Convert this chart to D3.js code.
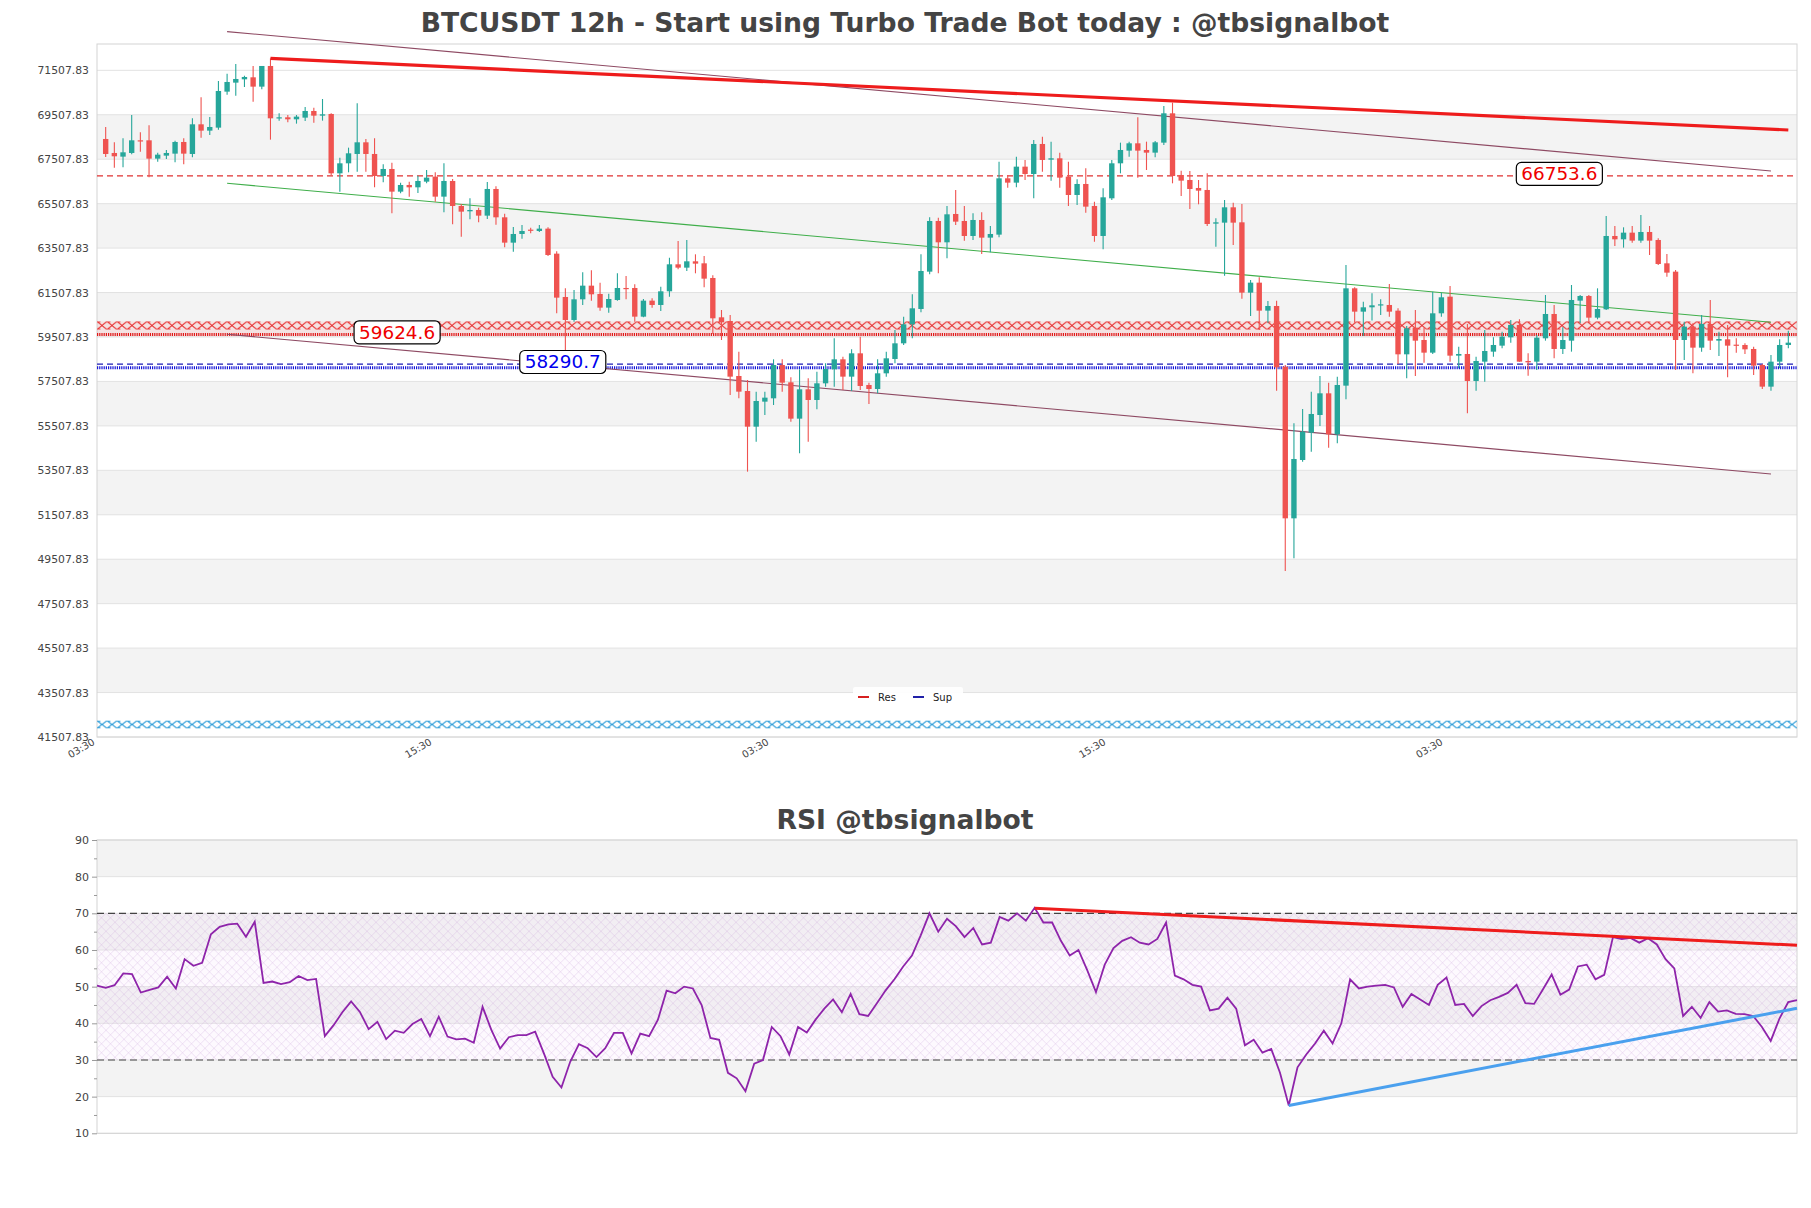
<!DOCTYPE html>
<html><head><meta charset="utf-8">
<script src="https://cdn.jsdelivr.net/npm/d3@7"></script>
<style>body{margin:0;background:#fff}svg{display:block}text{font-family:"DejaVu Sans",sans-serif}</style>
</head><body><svg id="c" width="1811" height="1208"></svg>
<script>
// ---------------- DATA ----------------
const yTicks = [41507.83,43507.83,45507.83,47507.83,49507.83,51507.83,53507.83,55507.83,57507.83,59507.83,61507.83,63507.83,65507.83,67507.83,69507.83,71507.83];
const xTickIdx = [-1, 37.85, 76.71, 115.56, 154.42];
const xTickLabels = ["03:30","15:30","03:30","15:30","03:30"];
const rsiTicks = [10,20,30,40,50,60,70,80,90];
const rsiMinor = [15,25,35,45,55,65,75,85];

const opens = [68418,67788,67623,67788,68358,68358,67533,67668,67758,68283,67743,69078,68793,68928,70548,70953,71103,71193,70773,71703,
69348,69393,69303,69378,69678,69468,69543,66873,67323,67743,68268,67743,66753,67068,66048,66348,66243,66498,66723,65823,
66528,65403,65163,65223,64968,66168,64893,63753,64143,64338,64278,64383,63258,61308,60273,61203,61818,61443,60828,61173,
61713,61713,60423,61143,60948,61563,62778,62628,62913,62823,62163,60393,60228,57753,57078,55473,56598,56748,58248,57468,
55833,57153,56673,57423,58053,58503,57723,58773,57348,57168,57873,58518,59223,60078,60768,62448,64728,63768,65043,64728,
64053,64773,63978,64113,66648,66453,67173,66843,68193,67488,67548,66723,65898,66393,65403,64053,65748,67323,67893,68223,
67923,67803,68253,69573,66798,66573,66213,66123,64608,64653,65343,64668,61503,61953,60693,60903,58173,51348,53973,55203,
55998,56973,55128,57318,61698,60648,60843,60933,60948,60693,58728,59928,59373,58803,60573,61323,58668,58743,57528,58398,
58848,59118,59493,60048,58428,58398,59448,60543,58968,59343,61143,61353,60378,60753,64053,63903,64203,63843,64233,63873,
62823,62448,59373,59973,59028,60093,59343,59403,59163,59148,58968,58248,57273,58398,59148];
const highs = [68958,68268,68448,69498,68718,69033,67803,67923,68343,68448,69348,70293,69408,71028,71358,71793,71268,71703,71703,72048,
69573,69498,69498,69858,69828,70218,69573,67578,68028,70023,68418,68448,67278,67353,66453,66498,66768,67023,66918,67323,
66618,65493,65748,65328,66483,66288,65058,64458,64548,64428,64548,64443,63363,61698,61623,62418,62508,61953,61458,62373,
62253,61878,61218,61248,61773,63078,63828,63873,63228,63153,62283,60723,60498,58848,57573,57048,57048,58503,58503,57693,
58053,57648,57948,58323,59448,58623,58953,59523,57453,58503,58848,59823,60423,61428,63228,64893,64878,65403,66123,65403,
65073,65118,64503,67398,66798,67623,67473,68373,68523,68298,67803,67398,66603,67098,65598,66198,67473,68253,68298,69393,
68298,68328,69903,70053,66993,66978,66573,66873,64848,65673,65553,65493,62073,62193,61128,61143,58248,55623,56268,57048,
57753,57453,57723,62748,61743,61098,61473,61203,61893,60798,59998,60723,59928,61548,61503,61803,59073,60093,58623,59823,
59493,59748,60273,60303,58773,59598,61398,60948,59943,61848,61398,61398,61698,64953,64503,64443,64503,64998,64503,63948,
63243,62523,60198,60123,60498,61173,59748,60048,59448,59223,59073,58293,58698,59403,59793];
const lows = [67608,67128,67143,67728,67848,66693,67398,67518,67368,67278,67593,68478,68598,68838,70413,70368,70758,70098,70653,68388,
69243,69168,69108,69228,69153,69243,66798,66048,66918,66948,66948,66243,66468,65073,65973,65823,65988,66423,65598,65118,
64578,64023,64803,64668,64818,64563,63543,63348,63933,64173,64233,63153,60573,58848,60198,60948,61143,60693,60603,61143,
61203,60198,60393,60828,60678,61323,62553,62478,62373,61743,59643,59373,56898,56748,53448,54798,55998,56448,57048,55698,
54273,54798,56253,57273,57273,57123,57078,57123,56493,56973,57723,58323,59148,59448,60618,62328,62373,63048,64548,63843,
63873,63243,63318,63993,66228,66243,66573,65748,66948,66543,66228,65403,65448,65103,63798,63453,65673,66873,67623,66678,
67023,67593,68148,66423,65853,65268,65478,64503,63573,62268,63648,61233,60453,59823,60153,57093,48978,49548,53898,54348,
55503,54528,54723,56703,60153,59553,60250,60498,60423,58293,57648,57753,58353,58743,60423,58398,58098,56073,57093,57498,
58623,58998,59253,58398,57768,58023,59343,58548,58743,58848,60123,60198,60303,60723,63603,63528,63753,63753,63198,62748,
62223,58023,58473,57873,58848,58923,58653,57693,58803,58743,57798,57168,57093,58098,58998];
const closes = [67743,67638,67818,68358,68328,67533,67713,67788,68283,67758,69078,68793,68958,70578,70983,71118,71208,70773,71703,69348,
69393,69303,69423,69678,69468,69528,66873,67323,67773,68268,67743,66753,67068,66048,66348,66243,66528,66678,65823,66528,
65403,65148,65223,64968,66168,64893,63753,64143,64278,64293,64383,63198,61278,60273,61203,61818,61428,60828,61218,61713,
61668,60423,61143,60948,61563,62778,62628,62913,62808,62133,60348,60168,57723,57048,55473,56628,56778,58248,57453,55833,
57153,56673,57423,58068,58503,57723,58773,57303,57168,57873,58548,59223,60078,60798,62478,64728,63768,65028,64698,64053,
64773,63978,64143,66648,66453,67173,66843,68193,67473,67548,66678,65898,66393,65373,64053,65793,67323,67923,68223,67893,
67803,68268,69573,66753,66543,66168,66093,64593,64668,65343,64653,61503,61953,60693,60903,58143,51348,54018,55248,56043,
56973,55128,57348,61698,60648,60843,60933,60978,60648,58728,59898,59343,58803,60573,61293,58668,58743,57528,58428,58878,
59148,59523,60048,58398,58368,59478,60543,58968,59373,61173,61353,60378,60768,64053,63903,64203,63843,64233,63843,62793,
62403,59373,59973,59028,60093,59343,59418,59118,59118,58953,58218,57273,58398,59148,59253];
const rsi = [50.3,49.7,50.4,53.6,53.4,48.4,49.1,49.8,52.7,49.5,57.5,55.7,56.5,64.3,66.3,67.0,67.2,63.6,67.7,51.0,
51.4,50.7,51.2,52.9,51.8,52.1,36.5,39.5,43.0,46.0,43.1,38.4,40.4,35.7,38.0,37.4,39.8,41.2,36.5,41.8,
36.4,35.6,35.8,34.7,44.5,38.2,33.1,36.2,36.8,36.8,37.7,31.8,25.4,22.5,29.5,34.3,33.2,30.8,33.2,37.4,
37.4,31.8,37.2,36.5,40.9,48.9,48.2,50.0,49.5,45.0,36.0,35.5,26.5,25.0,21.5,29.0,30.0,39.0,36.5,31.5,
39.0,37.5,41.0,44.0,46.5,43.0,48.0,42.5,42.0,45.5,49.0,52.0,55.5,58.5,64.0,70.0,65.0,68.5,66.5,63.5,
66.0,61.5,62.0,69.0,68.0,70.0,68.0,71.5,67.5,67.5,62.5,58.5,60.0,54.5,48.5,56.0,60.5,62.5,63.5,62.0,
61.5,63.0,67.5,53.0,52.0,50.5,50.0,43.5,44.0,47.0,44.0,34.0,35.5,32.0,33.0,26.5,17.6,28.0,31.5,34.5,
38.0,34.5,40.0,52.0,49.5,50.0,50.3,50.5,49.8,44.5,48.0,46.5,45.0,50.5,52.5,45.0,45.3,42.0,44.7,46.3,
47.2,48.3,50.5,45.5,45.3,49.2,53.3,47.8,49.2,55.5,56.0,52.0,53.2,63.5,63.0,63.3,62.0,63.2,61.5,57.5,
55.0,42.0,44.5,41.5,45.8,43.2,43.5,42.6,42.5,42.0,39.0,35.2,41.3,45.8,46.3];

const resLevels = [66753.6, 59624.6];   // dashed, dotted
const supLevels = [58290.7, 58126];     // dashed, dotted
const resBand = [59845, 60205];
const resGlow = [59540, 60205];
const supBand = [41899, 42241];
const levelLabels = [{v:66753.6, idx:167.6, kind:"res"},{v:59624.6, idx:33.6, kind:"res"},{v:58290.7, idx:52.7, kind:"sup"}];
const resTrend = [[19,72048],[194,68823]];
const chanUpper = [[14,73250],[192,66980]];
const chanMid = [[14,66424],[192,60169]];
const chanLower = [[14,59629],[192,53343]];
const rsiResTrend = [[107,71.4],[194,61.3]];
const rsiSupTrend = [[136,17.6],[194,44.1]];
const legendItems = [{name:"Res",color:"#d62020"},{name:"Sup",color:"#2020a8"}];

// ---------------- DRAW ----------------
const svg = d3.select("#c");
svg.append("rect").attr("width",1811).attr("height",1208).attr("fill","#fff");
const defs = svg.append("defs");
const UP="#26a69a", DN="#ef5350";

const M = {l:97, r:1797, t:44, b:737};
const x = d3.scaleLinear().domain([-1, closes.length]).range([M.l, M.r]);
const y = d3.scaleLinear().domain([41507.83, 72692]).range([M.b, M.t]);

// title
svg.append("text").attr("x",905).attr("y",32).attr("text-anchor","middle")
  .attr("font-size",26.6).attr("font-weight","bold").attr("fill","#444")
  .text("BTCUSDT 12h - Start using Turbo Trade Bot today : @tbsignalbot");

const g = svg.append("g");
// bands
const bandPairs = d3.range(1, yTicks.length-1, 2).map(k=>[yTicks[k], yTicks[k+1]]);
g.selectAll(".band").data(bandPairs).join("rect")
  .attr("x",M.l).attr("width",M.r-M.l)
  .attr("y",d=>y(d[1])).attr("height",d=>y(d[0])-y(d[1])).attr("fill","#f3f3f3");
g.selectAll(".grid").data(yTicks).join("line")
  .attr("x1",M.l).attr("x2",M.r).attr("y1",d=>y(d)).attr("y2",d=>y(d))
  .attr("stroke","#e2e2e2").attr("stroke-width",1);
g.append("rect").attr("x",M.l).attr("y",M.t).attr("width",M.r-M.l).attr("height",M.b-M.t)
  .attr("fill","none").attr("stroke","#d4d4d4");

// y axis
const ya = svg.append("g").attr("transform",`translate(${M.l},0)`)
  .call(d3.axisLeft(y).tickValues(yTicks).tickFormat(d3.format(".2f")).tickSize(0).tickPadding(8));
ya.select(".domain").remove();
ya.selectAll("text").attr("font-size",10.8).attr("fill","#444").attr("font-family","DejaVu Sans");

// x axis
const xa = svg.append("g").attr("transform",`translate(0,${M.b})`)
  .call(d3.axisBottom(x).tickValues(xTickIdx).tickFormat((d,i)=>xTickLabels[i]).tickSize(0));
xa.select(".domain").remove();
xa.selectAll("text").attr("y",0).attr("dy",0).attr("text-anchor","end")
  .attr("transform","translate(-2,7) rotate(-30)").attr("font-size",10).attr("fill","#444").attr("font-family","DejaVu Sans");

// hatch patterns
function hatch(id, color, y0, h, w, sw){
  const p = defs.append("pattern").attr("id",id).attr("patternUnits","userSpaceOnUse")
    .attr("x",M.l).attr("y",y0).attr("width",w).attr("height",h);
  p.append("path").attr("d",`M0,0 L${w},${h} M${w},0 L0,${h}`)
    .attr("stroke",color).attr("stroke-width",sw).attr("fill","none");
  p.append("path").attr("d",`M0,0.4 L${w*0.35},0.4 M0,${h-0.4} L${w*0.35},${h-0.4}`)
    .attr("stroke",color).attr("stroke-width",sw*0.8).attr("fill","none");
}
// resistance band
g.append("rect").attr("x",M.l).attr("width",M.r-M.l)
  .attr("y",y(resGlow[1])).attr("height",y(resGlow[0])-y(resGlow[1])).attr("fill","rgba(255,80,80,0.10)");
hatch("hR","#e83030",y(resBand[1]),y(resBand[0])-y(resBand[1]),10,1.1);
g.append("rect").attr("x",M.l).attr("width",M.r-M.l)
  .attr("y",y(resBand[1])).attr("height",y(resBand[0])-y(resBand[1])).attr("fill","url(#hR)");
// support band
hatch("hS","#2a9bd8",y(supBand[1]),y(supBand[0])-y(supBand[1]),10,1.1);
g.append("rect").attr("x",M.l).attr("width",M.r-M.l)
  .attr("y",y(supBand[1])).attr("height",y(supBand[0])-y(supBand[1])).attr("fill","url(#hS)");

// levels
g.append("line").attr("x1",M.l).attr("x2",M.r).attr("y1",y(resLevels[0])).attr("y2",y(resLevels[0]))
  .attr("stroke","#e03030").attr("stroke-width",1.3).attr("stroke-dasharray","6,4");
g.append("line").attr("x1",M.l).attr("x2",M.r).attr("y1",y(resLevels[1])).attr("y2",y(resLevels[1]))
  .attr("stroke","#e01818").attr("stroke-width",3).attr("stroke-dasharray","1.2,1");
g.append("line").attr("x1",M.l).attr("x2",M.r).attr("y1",y(supLevels[0])).attr("y2",y(supLevels[0]))
  .attr("stroke","#1c1cb8").attr("stroke-width",1.3).attr("stroke-dasharray","6,4");
g.append("line").attr("x1",M.l).attr("x2",M.r).attr("y1",y(supLevels[1])).attr("y2",y(supLevels[1]))
  .attr("stroke","#1515d8").attr("stroke-width",3).attr("stroke-dasharray","1.2,1");

// channel lines
const ln = d3.line().x(d=>x(d[0])).y(d=>y(d[1]));
g.append("path").attr("d",ln(chanUpper)).attr("stroke","#8e4a63").attr("stroke-width",1.1).attr("fill","none");
g.append("path").attr("d",ln(chanLower)).attr("stroke","#8e4a63").attr("stroke-width",1.1).attr("fill","none");
g.append("path").attr("d",ln(chanMid)).attr("stroke","#3fae4a").attr("stroke-width",1.1).attr("fill","none");

// candles
const bw = (x(1)-x(0))*0.62;
const cg = g.append("g");
const idx = d3.range(closes.length);
cg.selectAll(".wick").data(idx).join("line")
  .attr("x1",i=>x(i)).attr("x2",i=>x(i)).attr("y1",i=>y(highs[i])).attr("y2",i=>y(lows[i]))
  .attr("stroke",i=>closes[i]>=opens[i]?UP:DN).attr("stroke-width",1.1);
cg.selectAll(".body").data(idx).join("rect")
  .attr("x",i=>x(i)-bw/2).attr("width",bw)
  .attr("y",i=>y(Math.max(opens[i],closes[i])))
  .attr("height",i=>Math.max(1.2, Math.abs(y(opens[i])-y(closes[i]))))
  .attr("fill",i=>closes[i]>=opens[i]?UP:DN);

// red resistance trend
g.append("path").attr("d",ln(resTrend)).attr("stroke","#ee1c1c").attr("stroke-width",3.2).attr("fill","none");

// level labels
levelLabels.forEach(L=>{
  const lg = g.append("g");
  const t = lg.append("text").attr("x",x(L.idx)).attr("y",y(L.v)-2).attr("dy","0.35em")
    .attr("text-anchor","middle").attr("font-size",18.4)
    .attr("fill",L.kind==="res"?"#ee0000":"#0000ee").text(L.v.toFixed(1));
  const bb = t.node().getBBox();
  lg.insert("rect","text").attr("x",bb.x-5).attr("y",bb.y-1).attr("width",bb.width+10).attr("height",bb.height+2)
    .attr("rx",5).attr("fill","#fff").attr("stroke","#000").attr("stroke-width",1.2);
});

// legend
const lgG = svg.append("g").attr("transform","translate(853,687)");
lgG.append("rect").attr("width",110).attr("height",22).attr("fill","#fff").attr("opacity",0.9).attr("rx",2);
legendItems.forEach((d,i)=>{
  const o = i*55;
  lgG.append("line").attr("x1",5+o).attr("x2",16+o).attr("y1",10).attr("y2",10).attr("stroke",d.color).attr("stroke-width",2);
  lgG.append("text").attr("x",25+o).attr("y",10).attr("dy","0.35em").attr("font-size",10).attr("fill","#222").text(d.name);
});

// ---------------- RSI ----------------
const R = {l:97, r:1797, t:840, b:1133.3};
const xr = d3.scaleLinear().domain([0, rsi.length-1]).range([R.l, R.r]);
const yr = d3.scaleLinear().domain([10,90]).range([R.b, R.t]);

svg.append("text").attr("x",905).attr("y",829).attr("text-anchor","middle")
  .attr("font-size",26.6).attr("font-weight","bold").attr("fill","#444").text("RSI @tbsignalbot");

const rg = svg.append("g");
const rBands = [[20,30],[40,50],[60,70],[80,90]];
rg.selectAll(".rb").data(rBands).join("rect")
  .attr("x",R.l).attr("width",R.r-R.l).attr("y",d=>yr(d[1])).attr("height",d=>yr(d[0])-yr(d[1])).attr("fill","#f3f3f3");
rg.selectAll(".rgrid").data(rsiTicks).join("line")
  .attr("x1",R.l).attr("x2",R.r).attr("y1",d=>yr(d)).attr("y2",d=>yr(d)).attr("stroke","#e2e2e2");
// hatch 30-70
const hp = defs.append("pattern").attr("id","hRSI").attr("patternUnits","userSpaceOnUse")
  .attr("x",R.l).attr("y",yr(70)).attr("width",9).attr("height",9);
hp.append("path").attr("d","M0,0 L9,9 M9,0 L0,9").attr("stroke","rgba(195,150,210,0.35)").attr("stroke-width",0.7);
rg.append("rect").attr("x",R.l).attr("width",R.r-R.l).attr("y",yr(70)).attr("height",yr(30)-yr(70))
  .attr("fill","rgba(240,215,245,0.14)");
rg.append("rect").attr("x",R.l).attr("width",R.r-R.l).attr("y",yr(70)).attr("height",yr(30)-yr(70))
  .attr("fill","url(#hRSI)");
rg.append("rect").attr("x",R.l).attr("y",R.t).attr("width",R.r-R.l).attr("height",R.b-R.t)
  .attr("fill","none").attr("stroke","#d4d4d4");
[70,30].forEach(v=>rg.append("line").attr("x1",R.l).attr("x2",R.r).attr("y1",yr(v)).attr("y2",yr(v))
  .attr("stroke","#444").attr("stroke-width",1.2).attr("stroke-dasharray","7,4"));

const ra = svg.append("g").attr("transform",`translate(${R.l},0)`)
  .call(d3.axisLeft(yr).tickValues(rsiTicks).tickSize(5).tickPadding(3));
ra.select(".domain").remove();
ra.selectAll("line").attr("stroke","#999");
ra.selectAll("text").attr("font-size",11).attr("fill","#444").attr("font-family","DejaVu Sans");
const rm = svg.append("g").attr("transform",`translate(${R.l},0)`)
  .call(d3.axisLeft(yr).tickValues(rsiMinor).tickSize(3).tickFormat(""));
rm.select(".domain").remove();
rm.selectAll("line").attr("stroke","#999");

rg.append("path").attr("d",d3.line().x((d,i)=>xr(i)).y(d=>yr(d))(rsi))
  .attr("stroke","#8e24aa").attr("stroke-width",1.8).attr("fill","none");
const lr = d3.line().x(d=>xr(d[0])).y(d=>yr(d[1]));
rg.append("path").attr("d",lr(rsiResTrend)).attr("stroke","#ee1c1c").attr("stroke-width",3).attr("fill","none");
rg.append("path").attr("d",lr(rsiSupTrend)).attr("stroke","#4aa0ee").attr("stroke-width",3).attr("fill","none");
</script></body></html>
